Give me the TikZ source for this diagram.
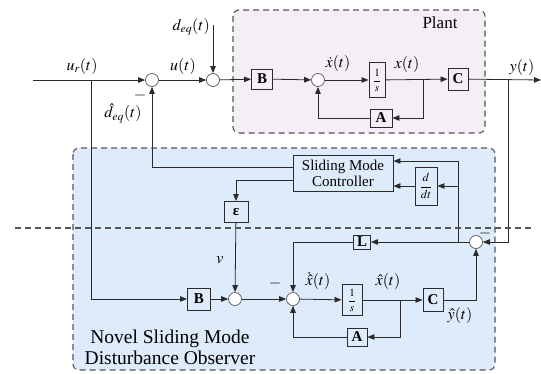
\documentclass[tikz,border=0pt]{standalone}
\usepackage{mathptmx}
\usepackage{fontspec}
\setmainfont{Liberation Serif}
\usetikzlibrary{arrows.meta}
\definecolor{plantbg}{HTML}{F6EEF6}
\definecolor{obsbg}{HTML}{DDEBFB}
\definecolor{wire}{HTML}{2B2B2B}
\definecolor{frame}{HTML}{555555}
\tikzset{
  blk/.style={draw=wire,line width=0.9pt,inner sep=1pt,font=\bfseries\fontsize{15}{15}\selectfont},
  sumpt/.style={circle,draw=gray!70!black,fill=white,line width=0.7pt,minimum size=13pt,inner sep=0pt},
  sig/.style={draw=wire,line width=0.8pt,-{Triangle[length=7pt,width=5.5pt]}},
  lbl/.style={font=\fontsize{16}{16}\selectfont,inner sep=1pt},
  group/.style={draw=frame,line width=1.1pt,rounded corners=6pt,dash pattern=on 6pt off 4pt}
}

\begin{document}
\begin{tikzpicture}[x=1pt,y=-1pt]
\useasboundingbox (0,0) rectangle (541,373);
% group backgrounds
\draw[group,fill=plantbg] (233,10) rectangle (485,133);
\draw[group,fill=obsbg] (73,148) rectangle (495,370);
\node[font=\fontsize{17}{17}\selectfont] (plantlbl) at (440,23) {Plant};
\node[font=\fontsize{19.5}{21}\selectfont,align=center] (obslbl) at (170,347) {Novel Sliding Mode\\Disturbance Observer};

% plant loop
\coordinate (in) at (33,80);
\coordinate (urj) at (91,80);
\coordinate (dtop) at (213,25);
\coordinate (xj) at (423,80);
\coordinate (yj) at (508,80);
\coordinate (out) at (541,80);
\node[sumpt] (s1) at (152,80) {};
\node[sumpt] (s2) at (213,80) {};
\node[blk,minimum width=21pt,minimum height=20pt] (b1) at (262,79) {B};
\node[sumpt] (s3) at (318,80) {};
\node[blk,minimum width=16pt,minimum height=35pt,font=\fontsize{11}{11}\selectfont] (i1) at (377,80) {$\displaystyle\frac{1}{s}$};
\node[blk,minimum width=22pt,minimum height=18pt] (a1) at (381,118) {A};
\node[blk,minimum width=20pt,minimum height=22pt] (c1) at (458,79) {C};

\draw[sig] (in) -- (s1);
\draw[sig] (s1) -- (s2);
\draw[sig] (dtop) -- (s2);
\draw[sig] (s2) -- (b1);
\draw[sig] (b1) -- (s3);
\draw[sig] (s3) -- (i1);
\draw[sig] (i1) -- (c1);
\draw[sig] (xj) |- (a1);
\draw[sig] (a1) -| (s3);
\draw[sig] (c1) -- (out);

% observer
\coordinate (xhj) at (400,300);
\coordinate (ej) at (458,242);
\node[blk,font=\fontsize{15}{16}\selectfont,align=center,minimum width=100pt,minimum height=36pt] (smc) at (343,173) {Sliding Mode\\Controller};
\node[blk,minimum width=22pt,minimum height=38pt,font=\fontsize{12}{12}\selectfont] (ddt) at (426,186) {$\displaystyle\frac{d}{dt}$};
\node[blk,minimum width=24pt,minimum height=21pt] (eps) at (236,212) {ε};
\node[blk,minimum width=23pt,minimum height=22pt] (b2) at (199,299) {B};
\node[sumpt] (s4) at (235,299) {};
\node[sumpt] (s6) at (293,299) {};
\node[blk,minimum width=20pt,minimum height=31pt,font=\fontsize{11}{11}\selectfont] (i2) at (352,300) {$\displaystyle\frac{1}{s}$};
\node[blk,minimum width=20pt,minimum height=18pt] (a2) at (357,337) {A};
\node[blk,minimum width=20pt,minimum height=23pt] (c2) at (433,300) {C};
\node[sumpt] (s5) at (476,242) {};
\node[blk,minimum width=17pt,minimum height=14pt] (l) at (362,242) {L};

\draw[sig] (urj) |- (b2);
\draw[sig] (b2) -- (s4);
\draw[sig] (eps) -- (s4);
\draw[sig] (s4) -- (s6);
\draw[sig] (s6) -- (i2);
\draw[sig] (i2) -- (c2);
\draw[sig] (xhj) |- (a2);
\draw[sig] (a2) -| (s6);
\draw[sig] (c2) -| (s5);
\draw[sig] (yj) |- (s5);
\draw[sig] (s5) -- (l);
\draw[sig] (l) -| (s6);
\draw[sig] (ej) |- ([yshift=12pt]smc.east);
\draw[sig] (ej) |- (ddt.east);
\draw[sig] (ddt.west) -- (ddt.west -| smc.east);
\draw[sig] ([yshift=6pt]smc.west) -| (s1);
\draw[sig] ([yshift=-7pt]smc.west) -| (eps);

% separator
\draw[frame,line width=1.1pt,dash pattern=on 6pt off 4pt] (15,228) -- (533,228);

% signal labels
\node[lbl] (urlbl) at (82,66) {$u_r(t)$};
\node[lbl] (ulbl) at (183,66) {$u(t)$};
\node[lbl,anchor=east] (dlbl) at (211,27) {$d_{eq}(t)$};
\node[lbl] (dhlbl) at (123,113) {$\hat d_{eq}(t)$};
\node[lbl] (m1) at (140,95) {$-$};
\node[lbl] (xdlbl) at (338,63) {$\dot x(t)$};
\node[lbl] (xlbl) at (407,64) {$x(t)$};
\node[lbl] (ylbl) at (522,67) {$y(t)$};
\node[lbl] (vlbl) at (220,260) {$v$};
\node[lbl] (m2) at (275,283) {$-$};
\node[lbl] (xhdlbl) at (318,281) {$\dot{\hat x}(t)$};
\node[lbl] (xhlbl) at (388,281) {$\hat x(t)$};
\node[lbl] (yhlbl) at (460,315) {$\hat y(t)$};
\node[lbl] (m3) at (485,233) {$-$};
\end{tikzpicture}
\end{document}
